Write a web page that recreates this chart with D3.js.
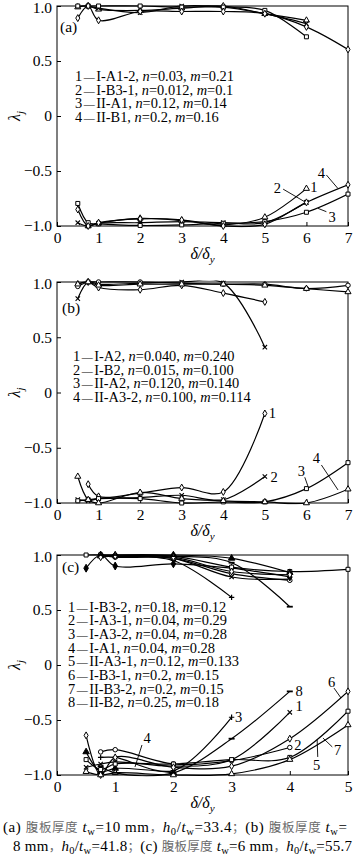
<!DOCTYPE html>
<html><head><meta charset="utf-8">
<script src="https://cdn.jsdelivr.net/npm/d3@7"></script>
<style>
html,body{margin:0;padding:0;background:#fff;}
svg{display:block;}
text{font-family:"Liberation Serif","Times New Roman",serif;fill:#000;}
</style></head>
<body>
<script>
// ---------------- DATA ----------------
const yTickVals = [-1, -0.5, 0, 0.5, 1];
const yTickLabels = ["\u22121.0", "\u22120.5", "0", "0.5", "1.0"];
const xTicksAB = [0, 1, 2, 3, 4, 5, 6, 7];
const xTicksC = [0, 1, 2, 3, 4, 5];

// Panel (a)
const xA = [0.5, 0.75, 1, 2, 3, 4, 5, 6, 7];
const aPos1 = [0.99, 1.0, 0.97, 0.96, 0.98, 1.0, 0.93, 0.87, null];
const aPos2 = [null, 1.0, 0.98, 0.94, 1.0, 0.99, 0.93, 0.84, null];
const aPos3 = [1.0, 1.0, 1.0, 1.0, 0.99, 0.99, 0.96, 0.72, null];
const aPos4 = [0.89, 1.0, 0.87, 0.95, 0.95, 0.95, 0.93, 0.81, 0.605];
const aNeg1 = [null, -1.0, -0.975, -0.93, -0.95, -0.99, -0.92, -0.66, null];
const aNeg2 = [-0.97, -1.0, -0.975, -0.97, -0.96, -0.97, -0.97, -0.785, null];
const aNeg3 = [-0.795, -0.97, -0.98, -0.995, -0.99, -0.975, -0.96, -0.875, -0.71];
const aNeg4 = [-0.85, -1.0, -0.97, -0.935, -0.945, -1.0, -0.985, -0.785, -0.625];
const legendA = [["1", "I-A1-2", "0.03", "0.21"], ["2", "I-B3-1", "0.012", "0.1"], ["3", "II-A1", "0.12", "0.14"], ["4", "II-B1", "0.2", "0.16"]];

// Panel (b)
const xB = [0.5, 0.75, 1, 2, 3, 4, 5, 6, 7];
const bPos1 = [0.98, 1.0, 0.95, 0.93, 0.97, 0.90, 0.82, null, null];
const bPos2 = [0.85, 1.0, 0.98, 0.99, 1.0, 0.99, 0.41, null, null];
const bPos3 = [0.96, 1.0, 1.0, 1.0, 0.99, 0.98, 0.98, 0.94, 0.97];
const bPos4 = [0.98, 1.0, 0.97, 0.98, 0.98, 0.98, 0.97, 0.94, 0.91];
const bNeg1 = [null, -0.83, -0.94, -0.91, -0.86, -0.90, -0.19, null, null];
const bNeg2 = [-0.97, -0.98, -0.96, -0.95, -0.93, -0.97, -0.76, null, null];
const bNeg3 = [-0.98, -0.97, -0.96, -0.96, -1.0, -0.99, -0.99, -0.87, -0.635];
const bNeg4 = [-0.76, -0.97, -1.0, -0.905, -0.96, -0.98, -0.99, -1.0, -0.875];
const legendB = [["1", "I-A2", "0.040", "0.240"], ["2", "I-B2", "0.015", "0.100"], ["3", "II-A2", "0.120", "0.140"], ["4", "II-A3-2", "0.100", "0.114"]];

// Panel (c)
const xC = [0.5, 0.75, 1, 2, 3, 4, 5];
const cPos1 = [null, 1.0, 0.99, 0.97, 0.80, 0.78, null];
const cPos2 = [null, 1.0, 0.98, 0.97, 0.83, 0.77, null];
const cPos3 = [null, 1.0, 0.99, 0.95, 0.615, null, null];
const cPos4 = [0.88, 1.0, 0.90, 0.92, 0.88, 0.80, null];
const cPos5 = [1.0, 1.0, 0.99, 0.99, 0.89, 0.85, 0.87];
const cPos6 = [null, 0.99, 1.0, 1.0, 0.97, 0.84, null];
const cPos7 = [null, 0.98, 0.99, 0.98, 0.85, 0.82, null];
const cPos8 = [null, 1.0, 1.0, 0.99, 0.93, 0.53, null];
const cNeg1 = [-0.93, -0.90, -0.88, -0.92, -0.86, -0.43, null];
const cNeg2 = [null, -0.79, -0.77, -0.90, -0.87, -0.75, null];
const cNeg3 = [null, -0.84, -0.84, -0.96, -0.475, null, null];
const cNeg4 = [-0.79, -0.97, -0.94, -0.98, null, null, null];
const cNeg5 = [-0.86, -0.95, -0.90, -0.90, -0.86, -0.84, -0.42];
const cNeg6 = [-0.64, -1.0, -0.84, -0.93, -0.92, -0.67, -0.24];
const cNeg7 = [-0.97, -1.0, -0.98, -1.0, -0.99, -0.86, -0.545];
const cNeg8 = [null, -0.92, -0.98, -0.98, -0.67, -0.24, null];
const legendC = [["1", "I-B3-2", "0.18", "0.12"], ["2", "I-A3-1", "0.04", "0.29"], ["3", "I-A3-2", "0.04", "0.28"], ["4", "I-A1", "0.04", "0.28"],
  ["5", "II-A3-1", "0.12", "0.133"], ["6", "I-B3-1", "0.2", "0.15"], ["7", "II-B3-2", "0.2", "0.15"], ["8", "II-B2", "0.25", "0.18"]];

// annotation labels [text, x, y] and leader lines [x1,y1,x2,y2] in data units
const annA = [["4", 6.36, -0.52], ["2", 5.30, -0.655], ["1", 6.18, -0.648], ["3", 6.62, -0.915]];
const leadA = [[6.48, -0.536, 6.76, -0.66], [5.44, -0.665, 5.96, -0.78], [6.48, -0.87, 6.28, -0.84]];
const annB = [["1", 5.18, -0.19], ["2", 5.22, -0.767], ["3", 5.88, -0.708], ["4", 6.24, -0.595]];
const leadB = [[5.96, -0.767, 6.04, -0.852], [6.36, -0.656, 6.76, -0.882]];
const annC = [["8", 4.16, -0.238], ["6", 4.72, -0.15], ["3", 3.12, -0.475], ["1", 4.16, -0.37], ["2", 4.14, -0.727], ["4", 1.55, -0.664], ["5", 4.46, -0.909], ["7", 4.82, -0.773]];
const leadC = [[1.46, -0.727, 1.34, -0.927], [4.48, -0.836, 4.47, -0.68], [4.73, -0.745, 4.57, -0.664], [4.76, -0.21, 4.88, -0.30]];

// ---------------- LAYOUT ----------------
const W = 355, H = 865;
const svg = d3.select("body").append("svg").attr("width", W).attr("height", H);
const X0 = 57, X1 = 348;

const panels = [
  { id: "a", top: 6, bottom: 226, xmax: 7, xticks: xTicksAB, xs: xA, tag: "(a)", tagPos: [60, 32],
    series: [[aPos1, "tri"], [aPos2, "x"], [aPos3, "sq"], [aPos4, "dia"], [aNeg1, "tri"], [aNeg2, "x"], [aNeg3, "sq"], [aNeg4, "dia"]],
    legend: legendA, legX: 75, legY: 81, legDy: 13.5, ann: annA, lead: leadA },
  { id: "b", top: 282, bottom: 503, xmax: 7, xticks: xTicksAB, xs: xB, tag: "(b)", tagPos: [62, 313],
    series: [[bPos1, "dia"], [bPos2, "x"], [bPos3, "circ"], [bPos4, "tri"], [bNeg1, "dia"], [bNeg2, "x"], [bNeg3, "sq"], [bNeg4, "tri"]],
    legend: legendB, legX: 73, legY: 361, legDy: 13.6, ann: annB, lead: leadB },
  { id: "c", top: 555, bottom: 775, xmax: 5, xticks: xTicksC, xs: xC, tag: "(c)", tagPos: [62, 572],
    series: [[cPos1, "x"], [cPos2, "circ"], [cPos3, "plus"], [cPos4, "diaF"], [cPos5, "sq"], [cPos6, "triF"], [cPos7, "dia"], [cPos8, "dash"],
             [cNeg1, "x"], [cNeg2, "circ"], [cNeg3, "plus"], [cNeg4, "triF"], [cNeg5, "sq"], [cNeg6, "dia"], [cNeg7, "tri"], [cNeg8, "dash"]],
    legend: legendC, legX: 68, legY: 611.5, legDy: 13.7, ann: annC, lead: leadC }
];

function drawMarker(g, type, px, py) {
  const s = 2.2;
  if (type === "x") {
    g.append("path").attr("d", `M${px - s},${py - s}L${px + s},${py + s}M${px - s},${py + s}L${px + s},${py - s}`)
      .attr("stroke", "#000").attr("stroke-width", 1.1).attr("fill", "none");
    return;
  }
  if (type === "plus") {
    g.append("path").attr("d", `M${px - s - 0.5},${py}L${px + s + 0.5},${py}M${px},${py - s - 0.5}L${px},${py + s + 0.5}`)
      .attr("stroke", "#000").attr("stroke-width", 1.2).attr("fill", "none");
    return;
  }
  if (type === "dash") {
    g.append("path").attr("d", `M${px - 3},${py}L${px + 3},${py}`)
      .attr("stroke", "#000").attr("stroke-width", 1.8).attr("fill", "none");
    return;
  }
  const map = { tri: [d3.symbolTriangle, 16, false], triF: [d3.symbolTriangle, 18, true], sq: [d3.symbolSquare, 16, false],
    dia: [d3.symbolDiamond, 14, false], diaF: [d3.symbolDiamond, 18, true], circ: [d3.symbolCircle, 16, false] };
  const m = map[type];
  g.append("path").attr("d", d3.symbol(m[0], m[1])()).attr("transform", `translate(${px},${py})`)
    .attr("fill", m[2] ? "#000" : "#fff").attr("stroke", "#000").attr("stroke-width", 1);
}

panels.forEach((p) => {
  const x = d3.scaleLinear().domain([0, p.xmax]).range([X0, X1]);
  const y = d3.scaleLinear().domain([-1, 1]).range([p.bottom, p.top]);
  const g = svg.append("g");

  svg.append("clipPath").attr("id", "clip" + p.id).append("rect")
    .attr("x", X0).attr("y", p.top - 1.5).attr("width", X1 - X0).attr("height", p.bottom - p.top + 3);

  const ya = g.append("g").attr("transform", `translate(${X0},0)`)
    .call(d3.axisLeft(y).tickValues(yTickVals).tickFormat((d, i) => yTickLabels[i]).tickSizeInner(-4).tickSizeOuter(0).tickPadding(5));
  const xa = g.append("g").attr("transform", `translate(0,${p.bottom})`)
    .call(d3.axisBottom(x).tickValues(p.xticks).tickFormat(d3.format("d")).tickSizeInner(-4).tickSizeOuter(0).tickPadding(6));
  [ya, xa].forEach(a => {
    a.select(".domain").remove();
    a.selectAll("line").attr("stroke", "#000").attr("stroke-width", 1);
    a.selectAll("text").attr("font-size", 15.5).attr("font-family", "Liberation Serif, serif").attr("fill", "#000");
  });
  ya.selectAll("text").filter(d => d === 1).attr("dy", "0.42em");
  g.append("rect").attr("x", X0).attr("y", p.top).attr("width", X1 - X0).attr("height", p.bottom - p.top)
    .attr("fill", "none").attr("stroke", "#000").attr("stroke-width", 1);

  const xt = g.append("text").attr("x", (X0 + X1) / 2).attr("y", p.bottom + 33).attr("text-anchor", "middle")
    .attr("font-size", 16).attr("font-style", "italic");
  xt.append("tspan").text("\u03b4/\u03b4");
  xt.append("tspan").text("y").attr("font-size", 11).attr("dy", 4);
  const yt = g.append("text").attr("transform", `translate(20,${(p.top + p.bottom) / 2}) rotate(-90)`)
    .attr("text-anchor", "middle").attr("font-size", 16).attr("font-style", "italic");
  yt.append("tspan").text("\u03bb");
  yt.append("tspan").text("j").attr("font-size", 11).attr("dy", 4);

  const lineGen = d3.line().x(d => x(d[0])).y(d => y(d[1])).curve(d3.curveCatmullRom.alpha(0.5));
  const cg = g.append("g").attr("clip-path", `url(#clip${p.id})`);
  const mg = g.append("g");
  p.series.forEach(([vals, mk]) => {
    const pts = p.xs.map((xv, i) => [xv, vals[i]]).filter(d => d[1] !== null);
    cg.append("path").attr("d", lineGen(pts)).attr("fill", "none").attr("stroke", "#000").attr("stroke-width", 1.2);
    pts.forEach(d => drawMarker(mg, mk, x(d[0]), y(d[1])));
  });

  g.append("text").attr("x", p.tagPos[0]).attr("y", p.tagPos[1]).attr("font-size", 15.5).text(p.tag);

  p.legend.forEach((l, i) => {
    const t = g.append("text").attr("x", p.legX).attr("y", p.legY + i * p.legDy).attr("font-size", 14.4);
    t.append("tspan").text(l[0]);
    t.append("tspan").text("\u2014").attr("font-size", 11).attr("dx", 1.5).style("font-weight", "bold");
    t.append("tspan").text(l[1] + ", ").attr("dx", 1.5);
    t.append("tspan").text("n").attr("font-style", "italic");
    t.append("tspan").text("=" + l[2] + ", ");
    t.append("tspan").text("m").attr("font-style", "italic");
    t.append("tspan").text("=" + l[3]);
  });

  p.ann.forEach(a => {
    g.append("text").attr("x", x(a[1])).attr("y", y(a[2]) + 5).attr("text-anchor", "middle").attr("font-size", 14.5).text(a[0]);
  });
  p.lead.forEach(l => {
    g.append("line").attr("x1", x(l[0])).attr("y1", y(l[1])).attr("x2", x(l[2])).attr("y2", y(l[3]))
      .attr("stroke", "#000").attr("stroke-width", 0.9);
  });
});

function caption(xPos, yPos, len, parts) {
  const t = svg.append("text").attr("x", xPos).attr("y", yPos).attr("font-size", 15)
    .attr("textLength", len).attr("lengthAdjust", "spacing");
  parts.forEach(pt => {
    const s = t.append("tspan").text(pt[0]);
    if (pt[1] === "cjk") s.attr("font-family", "Noto Sans CJK SC").attr("font-size", 12.5).style("fill", "#6a6a6a");
    if (pt[1] === "i") s.attr("font-style", "italic");
    if (pt[1] === "sub") s.attr("font-size", 10.5).attr("dy", 3);
    if (pt[1] === "up") s.attr("dy", -3);
  });
  return t;
}
caption(3, 832, 344, [["(a) "], ["腹板厚度", "cjk"], [" "], ["t", "i"], ["w", "sub"], ["=10 mm", "up"], ["，", "cjk"], ["h", "i"], ["0", "sub"], ["/", "up"], ["t", "i"], ["w", "sub"], ["=33.4", "up"], ["；", "cjk"], ["(b) "], ["腹板厚度", "cjk"], [" "], ["t", "i"], ["w", "sub"], ["=", "up"]]);
caption(13, 851, 339, [["8 mm"], ["，", "cjk"], ["h", "i"], ["0", "sub"], ["/", "up"], ["t", "i"], ["w", "sub"], ["=41.8", "up"], ["；", "cjk"], ["(c) "], ["腹板厚度", "cjk"], [" "], ["t", "i"], ["w", "sub"], ["=6 mm", "up"], ["，", "cjk"], ["h", "i"], ["0", "sub"], ["/", "up"], ["t", "i"], ["w", "sub"], ["=55.7", "up"]]);
</script>
</body></html>
